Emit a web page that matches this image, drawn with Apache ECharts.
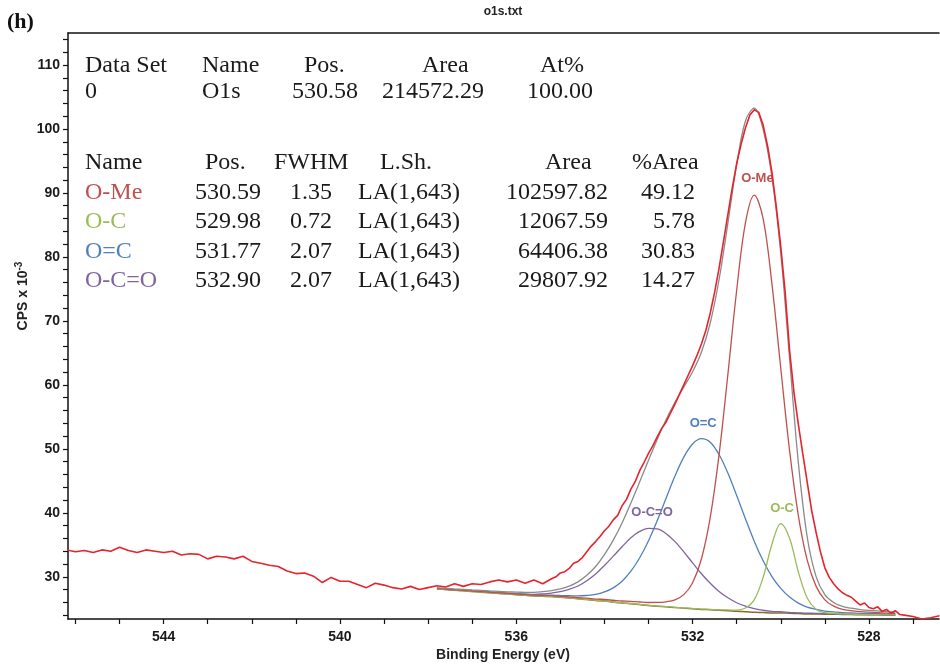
<!DOCTYPE html>
<html>
<head>
<meta charset="utf-8">
<title>O1s</title>
<script src="https://cdn.jsdelivr.net/npm/echarts@6/dist/echarts.min.js"></script>
<style>
  html, body { margin: 0; padding: 0; background: #ffffff; }
  #chart { width: 940px; height: 666px; }
</style>
</head>
<body>
<div id="chart"></div>
<script>
// ---- Measured spectrum (binding energy eV, CPS x 10^-3) ----
const rawSpectrum = [
  [546.2,34.2],[546.0,33.9],[545.8,34.1],[545.6,33.8],[545.4,34.2],[545.2,34.0],[545.0,34.6],[544.8,34.1],
  [544.6,33.8],[544.4,34.2],[544.2,34.0],[544.0,33.8],[543.8,34.0],[543.6,33.4],[543.4,33.6],[543.2,33.5],
  [543.0,32.8],[542.8,33.2],[542.6,33.1],[542.4,32.8],[542.2,33.2],[542.0,32.4],[541.8,32.1],[541.6,31.8],
  [541.4,31.6],[541.2,30.9],[541.0,30.5],[540.8,30.6],[540.6,30.1],[540.4,29.1],[540.2,29.9],[540.0,29.3],
  [539.8,29.3],[539.6,28.8],[539.4,28.3],[539.2,29.0],[539.0,28.7],[538.8,28.3],[538.6,28.1],[538.4,28.5],
  [538.2,28.0],[538.0,28.3],[537.8,28.6],[537.6,28.4],[537.4,28.9],[537.2,28.5],[537.0,28.9],[536.8,28.8],
  [536.6,29.2],[536.4,29.5],[536.2,29.2],[536.0,29.5],[535.8,29.0],[535.6,29.5],[535.4,28.9],[535.2,29.7],
  [535.1,30.0],[535.0,30.6],[534.9,30.8],[534.8,31.3],[534.7,32.1],[534.6,32.4],[534.5,33.0],[534.4,33.9],
  [534.3,34.8],[534.2,35.5],[534.1,36.3],[534.0,37.2],[533.9,37.9],[533.8,38.9],[533.7,39.6],[533.6,41.1],
  [533.5,42.1],[533.4,43.7],[533.3,44.9],[533.2,46.6],[533.1,47.9],[533.0,49.3],[532.9,50.5],[532.8,51.9],
  [532.7,53.2],[532.6,54.2],[532.5,55.6],[532.4,57.0],[532.3,58.5],[532.2,60.0],[532.1,61.5],[532.0,63.0],
  [531.9,64.6],[531.8,66.4],[531.7,68.5],[531.6,71.2],[531.5,74.5],[531.4,78.2],[531.3,82.4],[531.2,86.6],
  [531.1,90.8],[531.0,94.6],[530.9,97.6],[530.8,100.2],[530.7,102.2],[530.6,103.0],[530.5,102.6],[530.4,100.6],
  [530.3,97.4],[530.2,93.2],[530.1,87.8],[530.0,81.6],[529.9,74.5],[529.8,65.4],[529.7,58.8],[529.6,53.8],
  [529.5,49.2],[529.4,44.8],[529.3,40.4],[529.2,37.0],[529.1,33.9],[529.0,31.4],[528.9,29.9],[528.8,28.9],
  [528.7,28.1],[528.6,27.5],[528.5,27.1],[528.4,26.8],[528.3,26.2],[528.2,25.6],[528.1,25.9],[528.0,25.2],
  [527.9,25.0],[527.8,25.3],[527.7,24.6],[527.6,24.9],[527.5,24.3],[527.4,24.7],[527.3,24.1],[527.2,24.0],
  [527.0,23.8],[526.8,23.4],[526.6,23.6],[526.4,23.9]
];

// ---- Fit region: energies shared by background, components and envelope ----
const fitBE = [537.8,537.6,537.4,537.2,537.0,536.8,536.6,536.4,536.2,536.0,535.8,535.6,535.4,535.2,535.0,
  534.8,534.6,534.4,534.2,534.0,533.8,533.6,533.4,533.2,533.0,532.8,532.6,532.4,532.2,532.0,531.8,531.6,
  531.4,531.2,531.0,530.8,530.6,530.4,530.2,530.0,529.8,529.6,529.4,529.2,529.0,528.8,528.6,528.4,528.2,
  528.0,527.8,527.6,527.4];

const backgroundCps = [28.1,28.0,27.9,27.8,27.7,27.6,27.5,27.4,27.3,27.2,27.1,27.0,26.95,26.9,26.8,26.7,26.55,
  26.45,26.3,26.2,26.05,25.9,25.8,25.65,25.5,25.4,25.3,25.2,25.1,25.0,24.9,24.85,24.75,24.7,24.6,24.55,24.45,
  24.4,24.35,24.35,24.3,24.25,24.2,24.2,24.15,24.15,24.1,24.1,24.05,24.05,24.05,24.0,24.0];

const oMeCps = [28.16,28.06,27.96,27.87,27.77,27.68,27.58,27.49,27.39,27.30,27.21,27.12,27.08,27.04,26.95,26.86,
  26.73,26.65,26.52,26.45,26.33,26.21,26.16,26.06,25.98,25.99,26.09,26.40,27.21,29.07,32.78,39.28,49.05,61.61,
  74.79,85.36,89.65,85.99,75.79,62.60,49.75,39.53,32.59,28.54,26.40,25.41,24.91,24.71,24.54,24.46,24.41,24.32,24.28];

const oCCps = [28.1,28.0,27.9,27.8,27.7,27.6,27.5,27.4,27.3,27.21,27.11,27.01,26.96,26.91,26.81,26.71,26.56,26.46,
  26.31,26.21,26.06,25.91,25.82,25.67,25.52,25.42,25.33,25.23,25.14,25.04,24.95,24.92,24.83,24.81,24.80,25.12,
  26.42,29.90,35.09,38.32,36.02,30.73,26.67,24.93,24.39,24.28,24.19,24.17,24.11,24.09,24.09,24.03,24.03];

const oDoubleCCps = [28.18,28.08,27.99,27.89,27.80,27.71,27.62,27.53,27.44,27.35,27.27,27.18,27.16,27.13,27.08,
  27.04,27.00,27.08,27.24,27.63,28.27,29.30,30.87,32.97,35.64,38.83,42.31,45.74,48.70,50.76,51.59,51.04,49.11,
  46.22,42.69,39.04,35.53,32.50,30.03,28.19,26.83,25.89,25.26,24.91,24.64,24.52,24.39,24.35,24.26,24.24,24.22,
  24.16,24.14];

const carboxylCps = [28.15,28.06,27.96,27.87,27.77,27.68,27.59,27.50,27.42,27.34,27.28,27.25,27.32,27.46,27.67,
  28.04,28.56,29.39,30.43,31.77,33.22,34.70,36.09,37.09,37.57,37.47,36.74,35.49,33.90,32.17,30.47,28.98,27.69,
  26.71,25.94,25.42,25.01,24.77,24.60,24.53,24.44,24.37,24.30,24.29,24.23,24.22,24.17,24.16,24.11,24.10,24.10,
  24.04,24.04];

const envelopeCps = [28.29,28.20,28.11,28.03,27.94,27.87,27.79,27.72,27.65,27.60,27.57,27.56,27.67,27.84,28.11,
  28.55,29.20,30.23,31.60,33.46,35.73,38.42,41.54,44.84,48.21,51.51,54.57,57.26,59.65,62.04,65.09,69.67,76.43,
  85.25,94.42,101.29,103.26,99.96,92.46,80.59,64.14,47.77,36.22,30.07,27.21,25.98,25.36,25.09,24.87,24.74,
  24.67,24.55,24.49];

// ---- Axis ticks ----
const xTickValues = [527,528,529,530,531,532,533,534,535,536,537,538,539,540,541,542,543,544,545,546];
const xTickLabels = [528,532,536,540,544];
const yTickValues = [24,26,28,30,32,34,36,38,40,42,44,46,48,50,52,54,56,58,60,62,64,66,68,70,72,74,76,78,80,
  82,84,86,88,90,92,94,96,98,100,102,104,106,108,110,112,114];
const yTickLabels = [30,40,50,60,70,80,90,100,110];

// ---- Quantification tables ----
const regionHeader = ['Data Set','Name','Pos.','Area','At%'];
const regionRow = ['0','O1s','530.58','214572.29','100.00'];
const compHeader = ['Name','Pos.','FWHM','L.Sh.','Area','%Area'];
const compNames = ['O-Me','O-C','O=C','O-C=O'];
const compPos = ['530.59','529.98','531.77','532.90'];
const compFwhm = ['1.35','0.72','2.07','2.07'];
const compShape = ['LA(1,643)','LA(1,643)','LA(1,643)','LA(1,643)'];
const compArea = ['102597.82','12067.59','64406.38','29807.92'];
const compPct = ['49.12','5.78','30.83','14.27'];

// ---- Styling ----
const compColors = ['#c0504d','#9bbb59','#4f81bd','#8064a2'];
const rawColor = '#e5242b';
const envelopeColor = '#8a8a8a';
const backgroundColor = '#8a6a2c';
const axisColor = '#111111';
const SERIF = '"Liberation Serif", "Times New Roman", serif';
const SANS = '"Liberation Sans", Arial, sans-serif';

// Peak tag anchors (energy, cps) for the curve labels
const tagAnchors = [[530.53, 92.3], [529.97, 40.7], [531.76, 53.9], [532.92, 40.1]];

function zip(xs, ys) { return xs.map((x, i) => [x, ys[i]]); }

const X_MIN = 526.41, X_MAX = 546.17, Y_MIN = 23.4, Y_MAX = 115.0;

function curve(name, values, color, width, tagIndex) {
  const s = {
    name: name, type: 'line', data: zip(fitBE, values), smooth: 0.35,
    symbol: 'none', showSymbol: false, silent: true,
    lineStyle: { color: color, width: width }, itemStyle: { color: color },
    emphasis: { disabled: true }, z: 3
  };
  if (tagIndex !== undefined) {
    s.markPoint = {
      silent: true, symbol: 'circle', symbolSize: 1,
      itemStyle: { color: 'rgba(0,0,0,0)' },
      label: { show: true, position: 'inside', formatter: compNames[tagIndex], color: color,
               fontFamily: SANS, fontWeight: 'bold', fontSize: 13 },
      data: [{ coord: tagAnchors[tagIndex] }]
    };
  }
  return s;
}

// ---- Table text elements ----
const graphics = [];
function txt(x, y, text, opts) {
  graphics.push({
    type: 'text', x: x, y: y, silent: true,
    style: Object.assign({ text: text, fill: '#1a1a1a', font: '24px ' + SERIF,
                           align: 'left', verticalAlign: 'middle' }, opts || {})
  });
}
const t1x = [85, 202, 304, 422, 540];
const t1xv = [85, 202, 292, 382, 527];
regionHeader.forEach((h, i) => txt(t1x[i], 66, h));
regionRow.forEach((v, i) => txt(t1xv[i], 92, v));

const t2hx = [85, 205, 274, 380, 545, 632];
compHeader.forEach((h, i) => txt(t2hx[i], 163, h));
const rowY = [193, 222, 252, 281];
compNames.forEach((n, i) => {
  txt(85, rowY[i], n, { fill: compColors[i] });
  txt(195, rowY[i], compPos[i]);
  txt(290, rowY[i], compFwhm[i]);
  txt(358, rowY[i], compShape[i]);
  txt(608, rowY[i], compArea[i], { align: 'right' });
  txt(695, rowY[i], compPct[i], { align: 'right' });
});

// panel tag, file title and axis titles
txt(7, 22, '(h)', { font: 'bold 22px ' + SERIF, fill: '#111' });
txt(503, 12, 'o1s.txt', { font: 'bold 12px ' + SANS, align: 'center', fill: '#222' });
txt(503, 655, 'Binding Energy (eV)', { font: 'bold 14px ' + SANS, align: 'center', fill: '#222' });
graphics.push({
  type: 'text', x: 23, y: 296, rotation: Math.PI / 2, silent: true,
  style: {
    text: '{m|CPS x 10}{s|-3}', align: 'center', verticalAlign: 'middle',
    rich: {
      m: { font: 'bold 14px ' + SANS, fill: '#222' },
      s: { font: 'bold 10px ' + SANS, fill: '#222', verticalAlign: 'top', padding: [0, 0, 7, 0] }
    }
  }
});

const chart = echarts.init(document.getElementById('chart'), null, { renderer: 'canvas' });
chart.setOption({
  animation: false,
  backgroundColor: '#ffffff',
  grid: { left: 68, top: 33, right: 1, bottom: 47, containLabel: false, outerBoundsMode: 'none' },
  xAxis: [{
    type: 'value', inverse: true, min: X_MIN, max: X_MAX, position: 'bottom',
    axisLine: { show: true, lineStyle: { color: axisColor, width: 1.5 } },
    axisTick: { show: true, customValues: xTickValues, length: 5, lineStyle: { color: axisColor, width: 1.2 } },
    axisLabel: { show: true, customValues: xTickLabels, margin: 11, formatter: v => String(Math.round(v)),
                 fontFamily: SANS, fontWeight: 'bold', fontSize: 14, color: '#1a1a1a' },
    splitLine: { show: false }
  }, {
    type: 'value', inverse: true, min: X_MIN, max: X_MAX, position: 'top',
    axisLine: { show: true, lineStyle: { color: axisColor, width: 1.5 } },
    axisTick: { show: false }, axisLabel: { show: false }, splitLine: { show: false }
  }],
  yAxis: {
    type: 'value', min: Y_MIN, max: Y_MAX,
    axisLine: { show: true, lineStyle: { color: axisColor, width: 1.5 } },
    axisTick: { show: true, customValues: yTickValues, length: 5, lineStyle: { color: axisColor, width: 1.2 } },
    axisLabel: { show: true, customValues: yTickLabels, margin: 8, formatter: v => String(Math.round(v)),
                 fontFamily: SANS, fontWeight: 'bold', fontSize: 14, color: '#1a1a1a' },
    splitLine: { show: false }
  },
  series: [
    curve('Background', backgroundCps, backgroundColor, 1.5),
    curve('O-C=O', carboxylCps, compColors[3], 1.3, 3),
    curve('O=C', oDoubleCCps, compColors[2], 1.3, 2),
    curve('O-C', oCCps, compColors[1], 1.3, 1),
    curve('O-Me', oMeCps, compColors[0], 1.3, 0),
    curve('Envelope', envelopeCps, envelopeColor, 1.3),
    {
      name: 'O1s', type: 'line', data: rawSpectrum, symbol: 'none', showSymbol: false, silent: true,
      lineStyle: { color: rawColor, width: 1.6 }, emphasis: { disabled: true }, z: 5
    }
  ],
  graphic: graphics
});
</script>
</body>
</html>
